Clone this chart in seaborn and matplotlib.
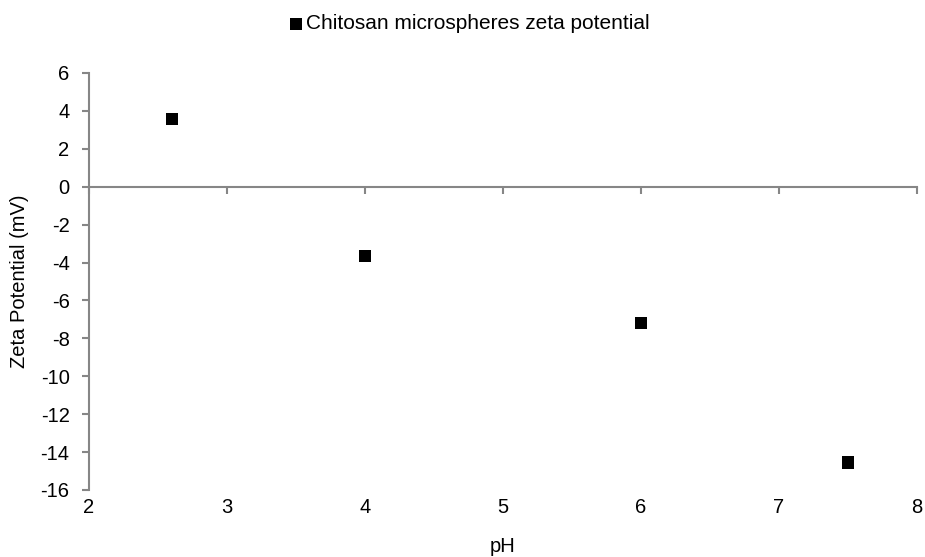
import matplotlib.pyplot as plt
import seaborn as sns
import pandas as pd

ph = [2.6, 4.0, 6.0, 7.5]
zeta = [3.55, -3.65, -7.2, -14.55]
series_name = "Chitosan microspheres zeta potential"

x_ticks = [2, 3, 4, 5, 6, 7, 8]
y_ticks = [-16, -14, -12, -10, -8, -6, -4, -2, 0, 2, 4, 6]


def main():
    sns.set_style("white")
    plt.rcParams["font.family"] = ["Liberation Sans", "DejaVu Sans"]
    plt.rcParams["axes.unicode_minus"] = False
    plt.rcParams["text.color"] = "black"
    plt.rcParams["axes.labelcolor"] = "black"
    plt.rcParams["xtick.labelcolor"] = "black"
    plt.rcParams["ytick.labelcolor"] = "black"
    df = pd.DataFrame({"pH": ph, "zeta": zeta})

    fig = plt.figure(figsize=(9.25, 5.57), dpi=100)
    ax = fig.add_axes([0.0962, 0.1203, 0.8952, 0.7487])

    sns.scatterplot(df, x="pH", y="zeta", marker="s", s=75, color="black",
            edgecolor="none", label=series_name, ax=ax, zorder=3)

    grey = "#868686"
    fs = 14.5
    ax.set_xlim(2, 8)
    ax.set_ylim(-16, 6)
    ax.set_xticks(x_ticks)
    ax.set_yticks(y_ticks)

    for side in ["top", "right", "bottom"]:
        ax.spines[side].set_visible(False)
    ax.spines["left"].set_color(grey)
    ax.spines["left"].set_linewidth(1.5)

    ax.tick_params(axis="y", direction="out", length=5, width=1.5,
            color=grey, labelsize=fs, labelcolor="black", left=True, pad=9)
    ax.tick_params(axis="x", length=0, labelsize=fs, labelcolor="black",
            pad=6)

    # zero line carrying the x tick marks
    sec = ax.secondary_xaxis(0, transform=ax.transData)
    sec.set_xticks(x_ticks)
    sec.set_xticklabels([])
    sec.tick_params(axis="x", direction="out", length=5, width=1.5,
            color=grey, bottom=True)
    sec.spines["bottom"].set_color(grey)
    sec.spines["bottom"].set_linewidth(1.5)

    ax.set_xlabel("pH", fontsize=fs, labelpad=14, color="black")
    ax.set_ylabel("Zeta Potential (mV)", fontsize=fs, labelpad=8,
            color="black")

    leg = ax.legend(loc="center", bbox_to_anchor=(0.5, 0.957),
            bbox_transform=fig.transFigure, frameon=False, fontsize=15,
            handletextpad=-0.5, markerscale=1.0)
    for t in leg.get_texts():
        t.set_color("black")

    fig.savefig("out.png", dpi=100)


if __name__ == "__main__":
    main()
